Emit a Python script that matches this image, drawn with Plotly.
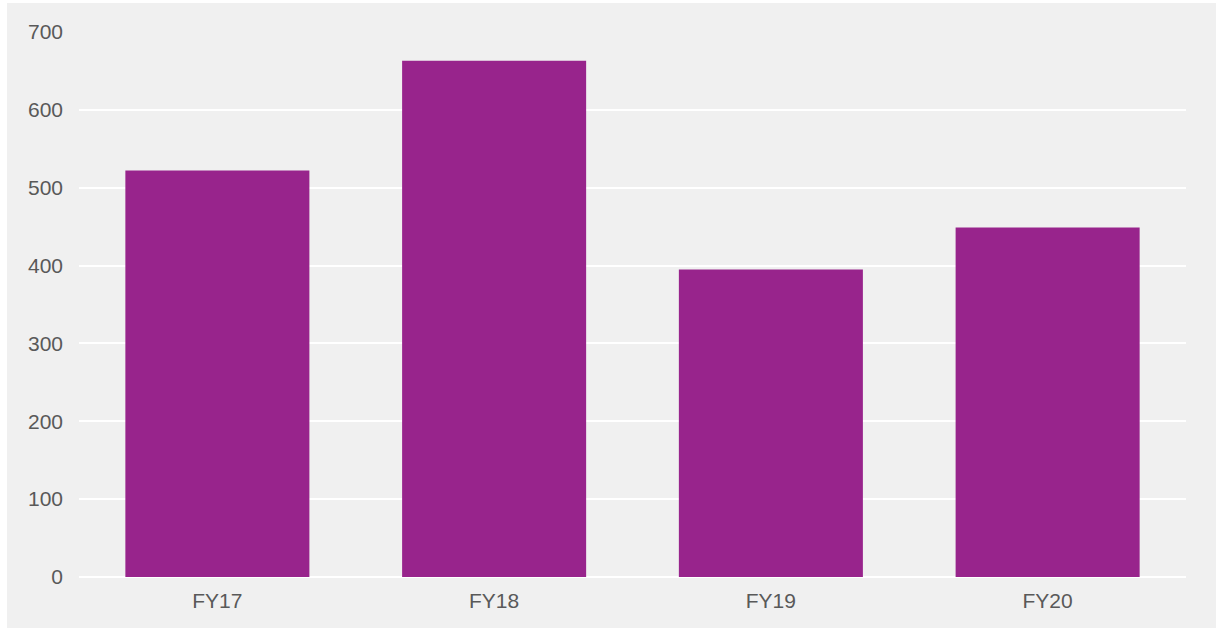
import plotly.graph_objects as go

categories = ["FY17", "FY18", "FY19", "FY20"]
values = [522, 663, 395, 449]
y_ticks = [0, 100, 200, 300, 400, 500, 600, 700]

BAR_COLOR = "#98248C"
BG = "#f0f0f0"
TEXT = "#595959"

fig = go.Figure(
    go.Bar(
        x=categories,
        y=values,
        marker=dict(color=BAR_COLOR, line=dict(width=0)),
        hoverinfo="x+y",
    )
)

W, H = 1216, 630
ml, mr, mt, mb = 79, 30, 32, 53
pw, ph = W - ml - mr, H - mt - mb

def px_x(p):
    return (p - ml) / pw

def px_y(p):
    return (H - mb - p) / ph

fig.add_shape(
    type="rect", xref="paper", yref="paper", layer="below",
    x0=px_x(7), x1=px_x(1216), y0=px_y(628), y1=px_y(3),
    fillcolor=BG, line=dict(width=0),
)

fig.update_layout(
    width=W, height=H,
    margin=dict(l=ml, r=mr, t=mt, b=mb, pad=0),
    paper_bgcolor="white",
    plot_bgcolor="rgba(0,0,0,0)",
    bargap=0.335,
    showlegend=False,
    font=dict(family="Liberation Sans, Arial, sans-serif", size=21, color=TEXT),
    xaxis=dict(
        showgrid=False, showline=False, zeroline=False, ticks="",
        ticklabelstandoff=9,
        tickfont=dict(size=21, color=TEXT),
    ),
    yaxis=dict(
        range=[0, 700], tickvals=y_ticks, ticktext=[str(v) for v in y_ticks],
        showgrid=True, gridcolor="white", gridwidth=2,
        zeroline=True, zerolinecolor="white", zerolinewidth=2,
        showline=False, ticks="",
        ticklabelstandoff=15,
        tickfont=dict(size=21, color=TEXT),
    ),
)

fig.write_html(
    "out.html",
    config={"displayModeBar": False},
    post_script="document.body.style.margin='0';document.body.style.padding='0';",
)
